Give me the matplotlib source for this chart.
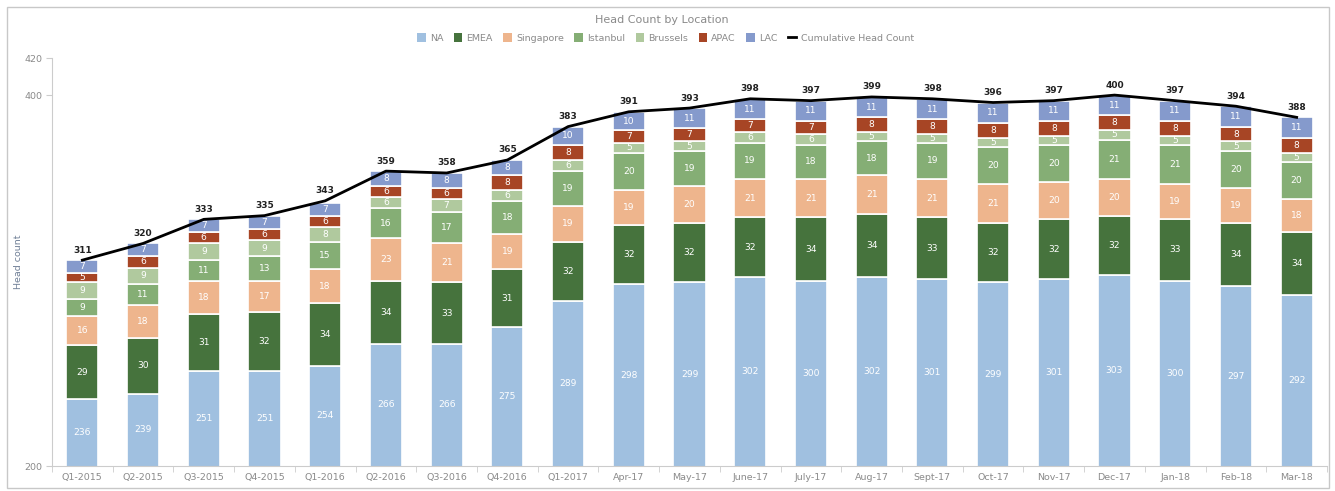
import matplotlib.pyplot as plt
from matplotlib.patches import Rectangle, Patch
from matplotlib.lines import Line2D
import numpy as np

periods = ['Q1-2015', 'Q2-2015', 'Q3-2015', 'Q4-2015', 'Q1-2016', 'Q2-2016', 'Q3-2016',
           'Q4-2016', 'Q1-2017', 'Apr-17', 'May-17', 'June-17', 'July-17', 'Aug-17',
           'Sept-17', 'Oct-17', 'Nov-17', 'Dec-17', 'Jan-18', 'Feb-18', 'Mar-18']
na = [236, 239, 251, 251, 254, 266, 266, 275, 289, 298, 299, 302, 300, 302, 301, 299, 301, 303, 300, 297, 292]
emea = [29, 30, 31, 32, 34, 34, 33, 31, 32, 32, 32, 32, 34, 34, 33, 32, 32, 32, 33, 34, 34]
singapore = [16, 18, 18, 17, 18, 23, 21, 19, 19, 19, 20, 21, 21, 21, 21, 21, 20, 20, 19, 19, 18]
istanbul = [9, 11, 11, 13, 15, 16, 17, 18, 19, 20, 19, 19, 18, 18, 19, 20, 20, 21, 21, 20, 20]
brussels = [9, 9, 9, 9, 8, 6, 7, 6, 6, 5, 5, 6, 6, 5, 5, 5, 5, 5, 5, 5, 5]
apac = [5, 6, 6, 6, 6, 6, 6, 8, 8, 7, 7, 7, 7, 8, 8, 8, 8, 8, 8, 8, 8]
lac = [7, 7, 7, 7, 7, 8, 8, 8, 10, 10, 11, 11, 11, 11, 11, 11, 11, 11, 11, 11, 11]
cumulative = [311, 320, 333, 335, 343, 359, 358, 365, 383, 391, 393, 398, 397, 399, 398, 396, 397, 400, 397, 394, 388]

series = [('NA', na, '#A0C0E0'), ('EMEA', emea, '#46733D'), ('Singapore', singapore, '#EEB58D'),
          ('Istanbul', istanbul, '#85AE75'), ('Brussels', brussels, '#B0C99E'),
          ('APAC', apac, '#A74525'), ('LAC', lac, '#859ACC')]

ymin, ymax = 200, 420
gray = '#8a8a8a'

fig = plt.figure(figsize=(13.35, 4.91), dpi=100)
fig.patches.append(Rectangle((7 / 1335, 3 / 491), 1322 / 1335, 481 / 491, transform=fig.transFigure,
                             fill=False, edgecolor='#c8c8c8', linewidth=1))
ax = fig.add_axes([52 / 1335, 25 / 491, 1275 / 1335, 408 / 491])

x = np.arange(len(periods))
bottom = np.zeros(len(periods))
handles = []
for name, vals, color in series:
    vals = np.array(vals, dtype=float)
    ax.bar(x, vals, 0.53, bottom=bottom, color=color, edgecolor='white', linewidth=1.2)
    for xi, b, v in zip(x, bottom, vals):
        lo = max(b, ymin)
        ax.text(xi, (lo + b + v) / 2, f'{int(v)}', ha='center', va='center',
                color='white', fontsize=6.6, clip_on=True)
    bottom += vals
    handles.append(Patch(facecolor=color, edgecolor='none', label=name))

ax.plot(x, cumulative, color='black', linewidth=2)
for xi, c in zip(x, cumulative):
    ax.annotate(f'{c}', (xi, c), xytext=(0, 4), textcoords='offset points', ha='center',
                va='bottom', fontsize=6.5, fontweight='bold', color='#222222')
handles.append(Line2D([0], [0], color='black', linewidth=2, label='Cumulative Head Count'))

ax.set_xlim(-0.5, len(periods) - 0.5)
ax.set_ylim(ymin, ymax)
ax.set_yticks([200, 400, 420])
ax.set_xticks(x)
ax.set_xticklabels(periods)
ax.set_xticks(np.arange(len(periods) + 1) - 0.5, minor=True)
ax.tick_params(axis='x', which='major', length=0, labelsize=6.8, labelcolor=gray, pad=5)
ax.tick_params(axis='x', which='minor', length=4, color='#cccccc')
ax.tick_params(axis='y', length=4, color='#cccccc', labelsize=6.8, labelcolor=gray, pad=3)
for s in ['top', 'right']:
    ax.spines[s].set_visible(False)
for s in ['left', 'bottom']:
    ax.spines[s].set_color('#cccccc')
ax.set_ylabel('Head count', fontsize=6.8, color='#6f7f96', labelpad=1)

fig.text(0.496, 1 - 20 / 491, 'Head Count by Location', ha='center', va='center', fontsize=8, color=gray)
fig.legend(handles=handles, loc='center', bbox_to_anchor=(0.4985, 1 - 38 / 491), ncol=8, frameon=False,
           fontsize=6.8, labelcolor=gray, handlelength=0.9, handleheight=1.0, handletextpad=0.45,
           columnspacing=1.1)

fig.savefig('out.png', dpi=100)
